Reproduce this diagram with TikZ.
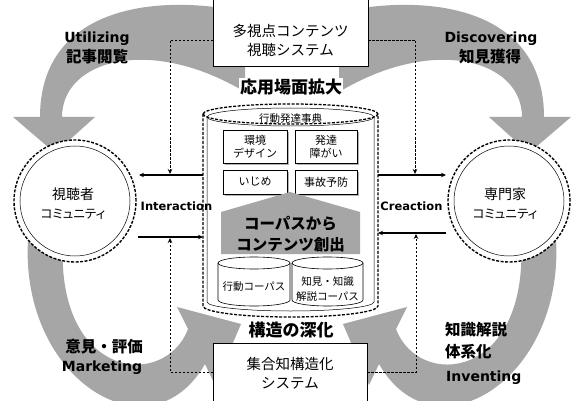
\documentclass[tikz,border=0pt]{standalone}
\usepackage{fontspec}
\setmainfont{DejaVu Sans}
\newfontfamily\jp{Noto Sans CJK JP}
\newfontfamily\jpp[RawFeature=+palt]{Noto Sans CJK JP}
\usetikzlibrary{arrows.meta,shadows}
\definecolor{band}{RGB}{166,166,166}
\begin{document}
\begin{tikzpicture}[x=1pt,y=-1pt,
  bandfill/.style={fill=band,draw=none},
  conn/.style={line width=1.1pt,-{Stealth[length=5pt,width=4.5pt]}},
  dconn/.style={line width=0.9pt,dash pattern=on 2.5pt off 1.5pt,-{Stealth[length=5pt,width=4.5pt]}},
  sysbox/.style={draw,line width=0.8pt,fill=white,inner sep=0pt},
  systext/.style={font=\jp\fontsize{14.5}{19}\selectfont,align=center,inner sep=0pt},
  boldjp/.style={font=\jp\bfseries\fontsize{15.5}{19}\selectfont,align=left,inner sep=0pt},
  boldlat/.style={font=\bfseries\fontsize{14}{17}\selectfont,inner sep=0pt},
  flowlab/.style={font=\bfseries\fontsize{11.5}{13}\selectfont,inner sep=0pt},
  sbox/.style={draw,fill=white,line width=0.6pt,inner sep=0pt,align=center,
     font=\jp\fontsize{11}{13}\selectfont,
     drop shadow={shadow xshift=1.8pt,shadow yshift=-1.8pt,fill=gray!60,opacity=1}},
  commu/.style={circle,draw,fill=white,line width=1.4pt,dash pattern=on 3pt off 1.5pt,
     minimum size=122pt,inner sep=0pt},
  commukanji/.style={font=\jp\fontsize{14}{16}\selectfont,inner sep=0pt},
  commukana/.style={font=\jpp\fontsize{12.5}{15}\selectfont,inner sep=0pt},
  cyldash/.style={line width=1.3pt,dash pattern=on 3pt off 1.5pt},
  cylthin/.style={line width=0.5pt}
]
\useasboundingbox (0,0) rectangle (578,401);
\fill[white] (0,0) rectangle (578,401);

% ---------- main cylinder ----------
\path[fill=white] (203,114) -- (203,306) arc[start angle=180,end angle=0,x radius=87.5,y radius=11]
   -- (378,114) arc[start angle=0,end angle=-180,x radius=87.5,y radius=10] -- cycle;
\draw[cyldash] (203,114) -- (203,306) arc[start angle=180,end angle=0,x radius=87.5,y radius=11]
   -- (378,114) arc[start angle=0,end angle=-180,x radius=87.5,y radius=10];
\draw[cyldash] (203,114) arc[start angle=180,end angle=0,x radius=87.5,y radius=10];
\draw[cylthin] (207,117) -- (207,302) arc[start angle=180,end angle=0,x radius=83.5,y radius=9] -- (374,117);
\draw[cylthin] (290.5,117) ellipse [x radius=83.5,y radius=9];
\node[font=\jp\fontsize{10.5}{12}\selectfont,inner sep=0pt] (jiten) at (290.5,119) {行動発達事典};
\node[minimum width=175pt,minimum height=212pt,inner sep=0pt] (cyl) at (290.5,210) {};

% inner boxes
\node[sbox,minimum width=64pt,minimum height=33pt] (kankyo) at (255,146.5) {環境\\デザイン};
\node[sbox,minimum width=62pt,minimum height=33pt] (hattatsu) at (326,146.5) {発達\\障がい};
\node[sbox,minimum width=64pt,minimum height=24pt] (ijime) at (255,182) {いじめ};
\node[sbox,minimum width=62pt,minimum height=24pt] (jiko) at (326,182) {事故予防};

% pentagon
\fill[band] (290,192) -- (360,212) -- (360,254) -- (221,254) -- (221,212) -- cycle;
\node[font=\jp\bfseries\fontsize{15.5}{20.5}\selectfont,align=center,inner sep=0pt] (sousyutsu) at (290.5,234) {コーパスから\\コンテンツ創出};

% small cylinders
\draw[fill=white,line width=0.6pt] (218,263) -- (218,300) arc[start angle=180,end angle=0,x radius=36,y radius=6]
   -- (290,263) arc[start angle=0,end angle=-180,x radius=36,y radius=6] -- cycle;
\draw[line width=0.6pt] (218,263) arc[start angle=180,end angle=0,x radius=36,y radius=6];
\draw[fill=white,line width=0.6pt] (292,263) -- (292,300) arc[start angle=180,end angle=0,x radius=35.5,y radius=6]
   -- (363,263) arc[start angle=0,end angle=-180,x radius=35.5,y radius=6] -- cycle;
\draw[line width=0.6pt] (292,263) arc[start angle=180,end angle=0,x radius=35.5,y radius=6];
\node[font=\jp\fontsize{10.5}{13}\selectfont,inner sep=0pt] (kcorp) at (254,287) {行動コーパス};
\node[font=\jp\fontsize{10.5}{14.5}\selectfont,align=center,inner sep=0pt] (ccorp) at (327.5,289) {知見・知識\\解説コーパス};

% ---------- gray bands ----------
\newcommand\topband{%
  \fill[band] (245,12) .. controls (150,-8) and (40,10) .. (40,117)
     -- (13,117) -- (55,153) -- (95,117) -- (62,117)
     .. controls (62,60) and (150,35) .. (245,92) -- cycle;}
\newcommand\botband{%
  \fill[band] (28,240) .. controls (20,380) and (150,460) .. (205,364)
     -- (215,385) -- (241,324) -- (177,307) -- (188,329)
     .. controls (165,390) and (55,380) .. (63,240) -- cycle;}
\topband
\botband
\begin{scope}[xshift=584pt,xscale=-1]
\topband
\botband
\end{scope}

% ---------- system boxes ----------
\node[sysbox,minimum width=155pt,minimum height=76pt] (topbox) at (290.5,28) {};
\node[systext] (toptext) at (290.5,40) {多視点コンテンツ\\視聴システム};
\node[sysbox,minimum width=154pt,minimum height=67pt] (botbox) at (290,376.5) {};
\node[systext] (bottext) at (290,373) {集合知構造化\\システム};

\node[font=\jp\bfseries\fontsize{17}{19}\selectfont,fill=white,inner sep=1pt] (ouyou) at (291,87) {応用場面拡大};
\node[font=\jp\bfseries\fontsize{17}{19}\selectfont,inner sep=0pt] (shinka) at (291,330) {構造の深化};

% ---------- communities ----------
\node[commu] (viewer) at (75,201) {};
\draw[line width=0.5pt] (viewer.center) circle[radius=55];
\node[commukanji] (vtext1) at (73,194) {視聴者};
\node[commukana] (vtext2) at (73,214) {コミュニティ};
\node[commu] (expert) at (509,201) {};
\draw[line width=0.5pt] (expert.center) circle[radius=55];
\node[commukanji] (etext1) at (505,194) {専門家};
\node[commukana] (etext2) at (505,214) {コミュニティ};

% ---------- connectors ----------
\coordinate (cL1) at (203,175); \coordinate (vA) at (139,175);
\coordinate (vB) at (138,237); \coordinate (cL2) at (203,237);
\coordinate (cR1) at (378,175); \coordinate (eA) at (446,175);
\coordinate (eB) at (446,233); \coordinate (cR2) at (378,233);
\draw[conn] (cL1) -- (vA);
\draw[conn] (vB) -- (cL2);
\draw[conn] (cR1) -- (eA);
\draw[conn] (eB) -- (cR2);

\coordinate (tL) at (213,40); \coordinate (dL1) at (170,174);
\coordinate (bL) at (213,372); \coordinate (dL2) at (170,238);
\coordinate (tR) at (368,40); \coordinate (dR1) at (415,174);
\coordinate (bR) at (367,372); \coordinate (dR2) at (416,234);
\draw[dconn] (tL) -| (dL1);
\draw[dconn] (bL) -| (dL2);
\draw[dconn] (tR) -| (dR1);
\draw[dconn] (bR) -| (dR2);

\node[flowlab] (inter) at (176.5,206) {Interaction};
\node[flowlab] (crea) at (411.5,206) {Creaction};

% ---------- band labels ----------
\node[boldlat] (util) at (97,39) {Utilizing};
\node[boldjp] (kiji) at (97,57) {記事閲覧};
\node[boldlat] (disc) at (491,39) {Discovering};
\node[boldjp] (chiken) at (490,57) {知見獲得};
\node[boldjp] (iken) at (104,347) {意見・評価};
\node[boldlat] (mark) at (102,368) {Marketing};
\node[boldjp,anchor=west] (chishiki) at (445,330) {知識解説};
\node[boldjp,anchor=west] (taikei) at (445,352) {体系化};
\node[boldlat,anchor=west] (invent) at (446,378) {Inventing};
\end{tikzpicture}
\end{document}
